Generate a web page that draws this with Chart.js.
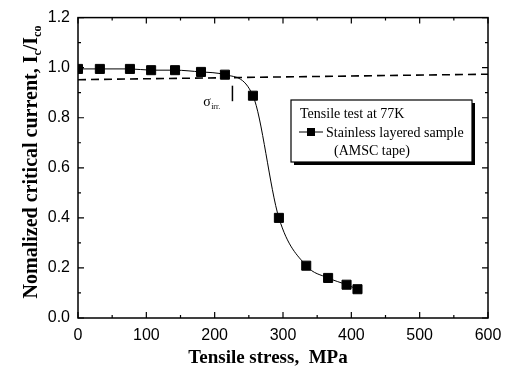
<!DOCTYPE html>
<html>
<head>
<meta charset="utf-8">
<script src="https://cdn.jsdelivr.net/npm/chart.js@4/dist/chart.umd.min.js"></script>
<style>
	html, body { margin: 0; padding: 0; background: #fff; }
	#wrap { width: 510px; height: 370px; }
</style>
</head>
<body>
<div id="wrap"><canvas id="myChart" width="510" height="370"></canvas></div>
<script>
// data
const stress = [0, 32, 76, 107, 142, 180, 215, 256, 294, 334, 366, 393, 409];
const icRatio = [0.995, 0.995, 0.995, 0.99, 0.99, 0.983, 0.972, 0.888, 0.40, 0.209, 0.16, 0.133, 0.115];
const limitX = [0, 600];
const limitY = [0.952, 0.974];
const xTicks = [0, 100, 200, 300, 400, 500, 600];
const yTicks = [0.0, 0.2, 0.4, 0.6, 0.8, 1.0, 1.2];

const serif = '"Liberation Serif", "Times New Roman", serif';
const sans = '"Liberation Sans", Arial, sans-serif';

const ctx = document.getElementById('myChart');

function toPoints(xs, ys) {
	return xs.map((x, i) => ({x, y: ys[i]}));
}

// frame, inward ticks, axis titles, legend box, annotation
const decorations = {
	id: 'decorations',
	afterDraw(chart) {
		const c = chart.ctx;
		const xs = chart.scales.x;
		const ys = chart.scales.y;
		const a = chart.chartArea;
		c.save();
		c.strokeStyle = '#000';
		c.lineWidth = 1.5;
		c.strokeRect(a.left, a.top, a.right - a.left, a.bottom - a.top);

		c.lineWidth = 1.2;
		c.beginPath();
		for (let v = 0; v <= 600; v += 50) {
			const px = xs.getPixelForValue(v);
			const len = v % 100 === 0 ? 6 : 3;
			c.moveTo(px, a.bottom); c.lineTo(px, a.bottom - len);
			c.moveTo(px, a.top); c.lineTo(px, a.top + len);
		}
		for (let i = 0; i <= 12; i++) {
			const py = ys.getPixelForValue(i / 10);
			const len = i % 2 === 0 ? 6 : 3;
			c.moveTo(a.left, py); c.lineTo(a.left + len, py);
			c.moveTo(a.right, py); c.lineTo(a.right - len, py);
		}
		c.stroke();

		// x title
		c.fillStyle = '#000';
		c.font = 'bold 19px ' + serif;
		c.textAlign = 'center';
		c.textBaseline = 'alphabetic';
		c.fillText('Tensile stress,  MPa', 268, 363);

		// y title with subscripts
		c.save();
		c.translate(37, 162);
		c.rotate(-Math.PI / 2);
		const parts = [
			['Nomalized critical current, I', false],
			['c', true],
			['/I', false],
			['co', true]
		];
		const big = 'bold 20px ' + serif;
		const small = 'bold 12px ' + serif;
		let total = 0;
		parts.forEach(p => { c.font = p[1] ? small : big; total += c.measureText(p[0]).width; });
		let x = -total / 2;
		c.textAlign = 'left';
		parts.forEach(p => {
			c.font = p[1] ? small : big;
			c.fillText(p[0], x, p[1] ? 4 : 0);
			x += c.measureText(p[0]).width;
		});
		c.restore();

		// sigma_irr annotation
		const sx = xs.getPixelForValue(189);
		const sy = ys.getPixelForValue(0.845);
		c.font = '14px ' + serif;
		c.textAlign = 'left';
		c.fillText('\u03c3', sx - 4, sy);
		c.font = '8px ' + serif;
		c.fillText('irr.', sx + 4, sy + 3);
		c.lineWidth = 1.5;
		c.beginPath();
		const mx = xs.getPixelForValue(226);
		c.moveTo(mx, ys.getPixelForValue(0.928));
		c.lineTo(mx, ys.getPixelForValue(0.866));
		c.stroke();

		// legend box with shadow
		const bx = 291, by = 100, bw = 181, bh = 62;
		c.fillStyle = '#000';
		c.fillRect(bx + 3, by + 3, bw, bh);
		c.fillStyle = '#fff';
		c.fillRect(bx, by, bw, bh);
		c.lineWidth = 1.2;
		c.strokeRect(bx, by, bw, bh);
		c.fillStyle = '#000';
		c.font = '14px ' + serif;
		c.fillText('Tensile test at 77K', bx + 9, by + 18);
		c.lineWidth = 1;
		c.beginPath();
		c.moveTo(bx + 8, by + 32); c.lineTo(bx + 32, by + 32);
		c.stroke();
		c.fillRect(bx + 16, by + 28, 8, 8);
		c.fillText('Stainless layered sample', bx + 35, by + 37);
		c.fillText('(AMSC tape)', bx + 43, by + 55);
		c.restore();
	}
};

new Chart(ctx, {
	type: 'scatter',
	data: {
		datasets: [{
			label: 'Stainless layered sample',
			data: toPoints(stress, icRatio),
			showLine: true,
			borderColor: '#000',
			backgroundColor: '#000',
			borderWidth: 1,
			pointStyle: 'rect',
			pointRadius: 6.4,
			pointHoverRadius: 6.4,
			cubicInterpolationMode: 'monotone'
		}, {
			label: 'limit',
			data: toPoints(limitX, limitY),
			showLine: true,
			borderColor: '#000',
			borderWidth: 1.6,
			borderDash: [8, 5],
			pointRadius: 0
		}]
	},
	options: {
		responsive: false,
		animation: false,
		events: [],
		layout: { padding: { top: 14, right: 22, left: 0, bottom: 0 } },
		plugins: {
			legend: { display: false },
			tooltip: { enabled: false }
		},
		scales: {
			x: {
				min: 0, max: 600,
				afterBuildTicks: s => { s.ticks = xTicks.map(v => ({value: v})); },
				afterFit: s => { s.height = 52; },
				grid: { display: false, drawTicks: false },
				border: { display: false },
				ticks: {
					color: '#000',
					padding: 8,
					maxRotation: 0,
					font: { family: sans, size: 16 }
				}
			},
			y: {
				min: 0, max: 1.2,
				afterBuildTicks: s => { s.ticks = yTicks.map(v => ({value: v})); },
				afterFit: s => { s.width = 78; },
				grid: { display: false, drawTicks: false },
				border: { display: false },
				ticks: {
					color: '#000',
					padding: 8,
					font: { family: sans, size: 16 },
					callback: v => v.toFixed(1)
				}
			}
		}
	},
	plugins: [decorations]
});
</script>
</body>
</html>
